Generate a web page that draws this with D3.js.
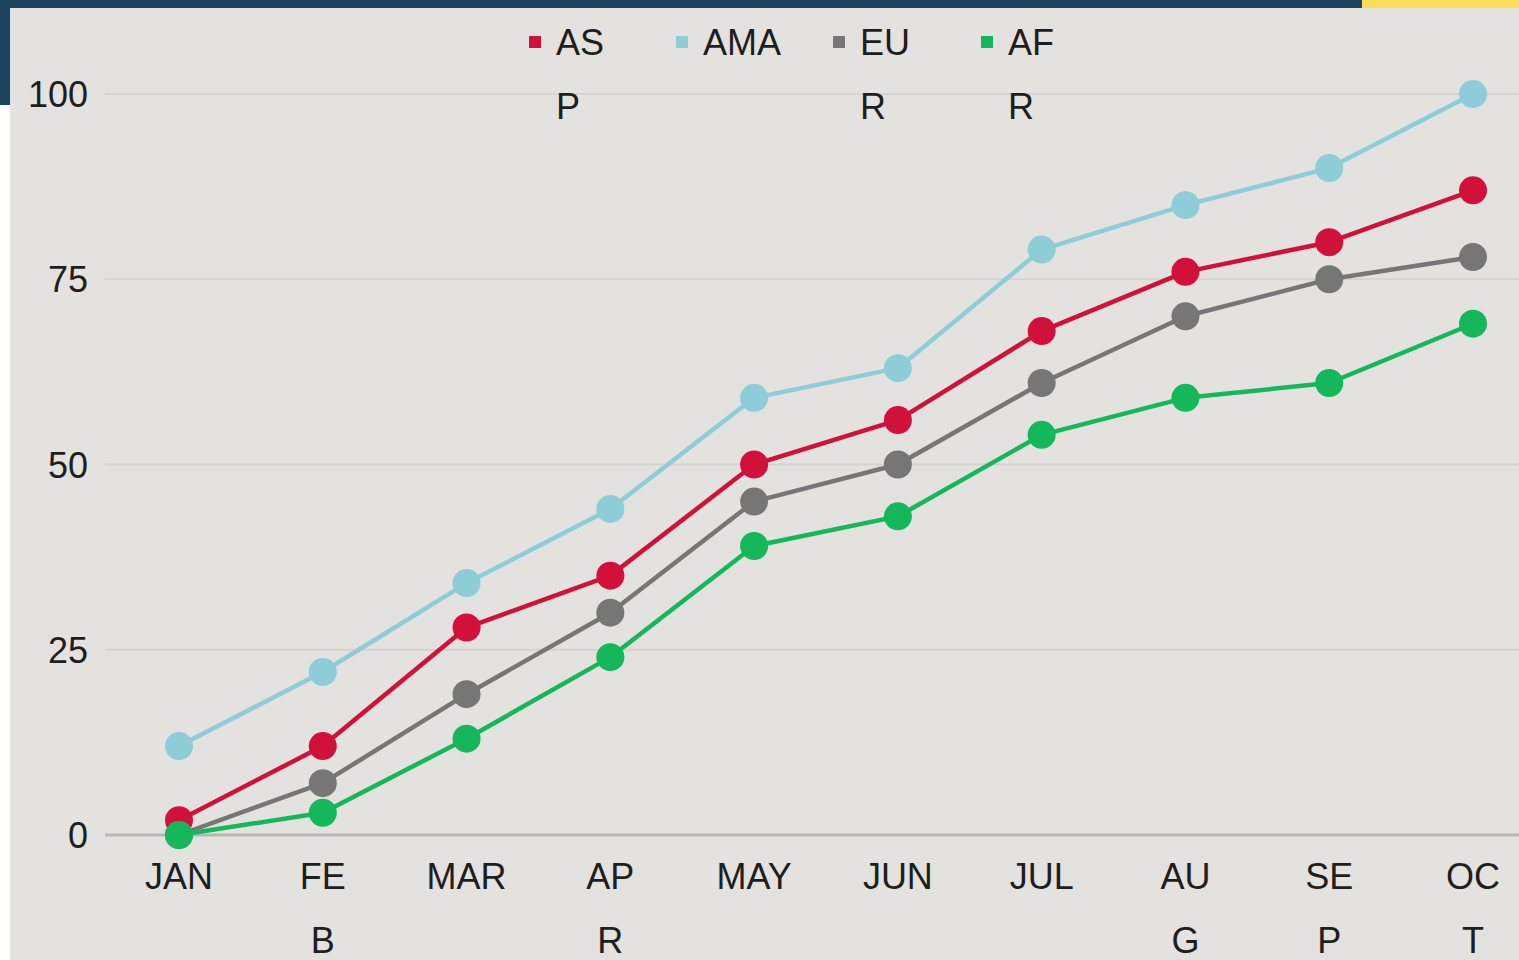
<!DOCTYPE html>
<html>
<head>
<meta charset="utf-8">
<script src="https://cdn.jsdelivr.net/npm/d3@7/dist/d3.min.js"></script>
<style>
  html, body { margin: 0; padding: 0; background: #ffffff; }
  svg { display: block; }
  text { font-family: "Liberation Sans", Arial, sans-serif; fill: #1e1e1e; }
</style>
</head>
<body>
<svg id="chart" width="1519" height="960"></svg>
<script>
const months = ["JAN", "FEB", "MAR", "APR", "MAY", "JUN", "JUL", "AUG", "SEP", "OCT"];
const monthLines = [["JAN"], ["FE", "B"], ["MAR"], ["AP", "R"], ["MAY"], ["JUN"], ["JUL"], ["AU", "G"], ["SE", "P"], ["OC", "T"]];
const seriesNames = ["ASP", "AMA", "EUR", "AFR"];
const legendLines = [["AS", "P"], ["AMA"], ["EU", "R"], ["AF", "R"]];
const seriesColors = ["#d2113a", "#8dcdd8", "#767676", "#14b85a"];
const asp = [2, 12, 28, 35, 50, 56, 68, 76, 80, 87];
const ama = [12, 22, 34, 44, 59, 63, 79, 85, 90, 100];
const eur = [0, 7, 19, 30, 45, 50, 61, 70, 75, 78];
const afr = [0, 3, 13, 24, 39, 43, 54, 59, 61, 69];
const yTicks = [0, 25, 50, 75, 100];

const seriesValues = [asp, ama, eur, afr];
const svg = d3.select("#chart");
const W = 1519, H = 960;

// background
const defs = svg.append("defs");
const rg = defs.append("radialGradient").attr("id", "shadow")
  .attr("cx", "50%").attr("cy", "0%").attr("r", "60%");
rg.append("stop").attr("offset", "0%").attr("stop-color", "#c4c3be").attr("stop-opacity", 0.9);
rg.append("stop").attr("offset", "100%").attr("stop-color", "#e3e2de").attr("stop-opacity", 0);

svg.append("rect").attr("x", 0).attr("y", 0).attr("width", W).attr("height", H).attr("fill", "#e3e2de");
svg.append("ellipse").attr("cx", 320).attr("cy", 8).attr("rx", 210).attr("ry", 45).attr("fill", "url(#shadow)");
svg.append("rect").attr("x", 0).attr("y", 105).attr("width", 10).attr("height", H - 105).attr("fill", "#ffffff");
svg.append("rect").attr("x", 0).attr("y", 0).attr("width", 10).attr("height", 105).attr("fill", "#1b4460");
svg.append("rect").attr("x", 0).attr("y", 0).attr("width", 1362).attr("height", 8).attr("fill", "#1b4460");
svg.append("rect").attr("x", 1362).attr("y", 0).attr("width", W - 1362).attr("height", 8).attr("fill", "#ffdc5a");

const x = d3.scalePoint().domain(months).range([179, 1473]);
const y = d3.scaleLinear().domain([0, 100]).range([835, 94]);

// gridlines
svg.append("g").selectAll("line").data(yTicks).join("line")
  .attr("x1", 105).attr("x2", W)
  .attr("y1", d => y(d)).attr("y2", d => y(d))
  .attr("stroke", d => d === 0 ? "#b8b7b3" : "#d5d3ce")
  .attr("stroke-width", d => d === 0 ? 3 : 2);

// y axis labels
const yAxis = d3.axisLeft(y).tickValues(yTicks).tickSize(0).tickPadding(0);
const yg = svg.append("g").attr("transform", "translate(88,0)").call(yAxis);
yg.select(".domain").remove();
yg.selectAll("text").attr("font-size", 36).attr("fill", "#1e1e1e")
  .attr("font-family", "'Liberation Sans', Arial, sans-serif").attr("dy", "0.35em");

// x axis labels (wrapped)
const xg = svg.append("g");
monthLines.forEach((lines, i) => {
  const t = xg.append("text").attr("x", x(months[i])).attr("y", 889)
    .attr("text-anchor", "middle").attr("font-size", 36);
  lines.forEach((s, j) => {
    t.append("tspan").attr("x", x(months[i])).attr("y", 889 + j * 64).text(s);
  });
});

// lines and points
const line = d3.line().x((d, i) => x(months[i])).y(d => y(d));
seriesValues.forEach((vals, k) => {
  const g = svg.append("g");
  g.append("path").datum(vals).attr("d", line).attr("fill", "none")
    .attr("stroke", seriesColors[k]).attr("stroke-width", 4.5).attr("stroke-linejoin", "round");
  g.selectAll("circle").data(vals).join("circle")
    .attr("cx", (d, i) => x(months[i])).attr("cy", d => y(d)).attr("r", 14)
    .attr("fill", seriesColors[k]);
});

// legend
const legendX = [529, 676, 833, 981];
legendLines.forEach((lines, k) => {
  svg.append("rect").attr("x", legendX[k]).attr("y", 36).attr("width", 12).attr("height", 12)
    .attr("fill", seriesColors[k]);
  const t = svg.append("text").attr("font-size", 36);
  lines.forEach((s, j) => {
    t.append("tspan").attr("x", legendX[k] + 27).attr("y", 55 + j * 64).text(s);
  });
});
</script>
</body>
</html>
